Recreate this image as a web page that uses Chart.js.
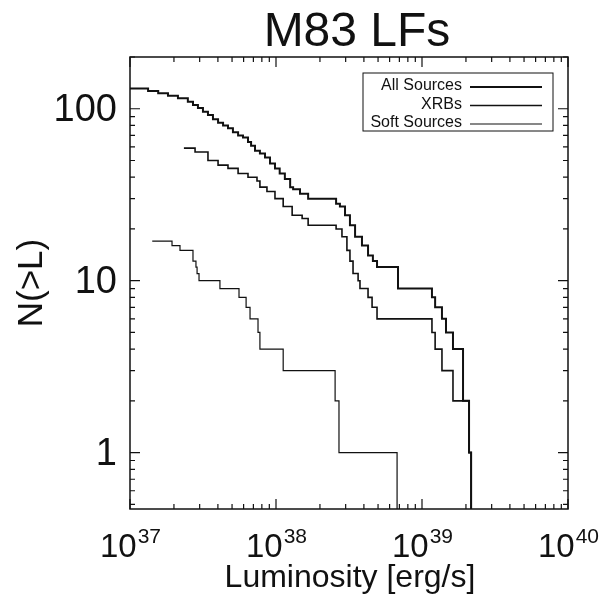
<!DOCTYPE html>
<html>
<head>
<meta charset="utf-8">
<script src="https://cdn.jsdelivr.net/npm/chart.js@4/dist/chart.umd.min.js"></script>
<style>
  body { margin: 0; background: #fff; }
  canvas { display: block; }
</style>
</head>
<body>
<canvas id="lf" width="602" height="595"></canvas>
<script>
// luminosity (erg/s) where N(>L) steps down, and the count after the step
const allL = [1.00e37, 1.33e37, 1.56e37, 1.82e37, 2.13e37, 2.49e37, 2.70e37, 2.92e37, 3.16e37, 3.42e37,
              3.70e37, 4.01e37, 4.34e37, 4.69e37, 5.07e37, 5.50e37, 5.94e37, 6.43e37, 6.75e37, 7.18e37,
              7.76e37, 8.41e37, 9.10e37, 9.84e37, 1.06e38, 1.15e38, 1.25e38, 1.31e38, 1.46e38, 1.66e38,
              2.58e38, 2.74e38, 2.97e38, 3.21e38, 3.48e38, 3.88e38, 4.27e38, 4.61e38, 4.92e38, 6.85e38,
              1.17e39, 1.23e39, 1.37e39, 1.46e39, 1.63e39, 1.91e39, 2.10e39, 2.17e39];
const allN = [131, 127, 123, 119, 115, 110, 105, 101, 96, 92,
              87, 83, 80, 77, 73, 70, 68, 64, 61, 57,
              55, 52, 48, 45, 42, 39, 35, 34, 32, 30,
              28, 27, 24, 21, 18, 16, 14, 13, 12, 9,
              8, 7, 6, 5, 4, 2, 1, 0.1];

const xrbL = [2.34e37, 2.79e37, 3.42e37, 4.01e37, 4.69e37, 5.50e37, 6.43e37, 7.41e37, 7.76e37, 8.67e37,
              9.84e37, 1.12e38, 1.29e38, 1.51e38, 1.66e38, 2.58e38, 2.83e38, 3.06e38, 3.21e38, 3.37e38,
              3.65e38, 3.76e38, 4.27e38, 4.55e38, 4.92e38, 1.17e39, 1.23e39, 1.37e39, 1.63e39, 2.10e39,
              2.17e39];
const xrbN = [59, 56, 50, 47, 45, 42, 40, 38, 35, 33,
              30, 27, 24, 23, 21, 20, 18, 15, 13, 11,
              10, 9, 8, 7, 6, 5, 4, 3, 2, 1,
              0.1];

const softL = [1.42e37, 1.94e37, 2.20e37, 2.70e37, 2.83e37, 2.88e37, 2.97e37, 4.13e37, 5.58e37, 6.24e37,
               6.64e37, 7.53e37, 7.76e37, 1.12e38, 2.54e38, 2.70e38, 6.75e38];
const softN = [17, 16, 15, 13, 12, 11, 10, 9, 8, 7,
               6, 5, 4, 3, 2, 1, 0.1];

const seriesNames = ['All Sources', 'XRBs', 'Soft Sources'];
const xDecades = [37, 38, 39, 40];
const yTickValues = [1, 10, 100];

const FONT = '"Liberation Sans", Arial, Helvetica, sans-serif';

function pairs(xs, ys) {
    return xs.map((x, i) => ({x: x, y: ys[i]}));
}

function stepSet(label, xs, ys, width) {
    return {
        label: label,
        data: pairs(xs, ys),
        showLine: true,
        stepped: 'before',
        borderColor: '#111',
        borderWidth: width,
        pointRadius: 0,
        fill: false
    };
}

const idlFrame = {
    id: 'idlFrame',
    afterDraw(chart) {
        const ctx = chart.ctx,
            a = chart.chartArea,
            xs = chart.scales.x,
            ys = chart.scales.y;

        ctx.save();
        ctx.strokeStyle = '#111';
        ctx.lineWidth = 1.5;
        ctx.strokeRect(a.left, a.top, a.right - a.left, a.bottom - a.top);

        // x ticks, inside, top and bottom
        ctx.lineWidth = 1.2;
        for (let d = xDecades[0]; d <= xDecades[xDecades.length - 1]; d++) {
            for (let m = 1; m <= 9; m++) {
                const v = m * Math.pow(10, d);
                if (v > xs.max * 1.0001) break;
                const px = xs.getPixelForValue(v),
                    len = m === 1 ? 10 : 5;
                ctx.beginPath();
                ctx.moveTo(px, a.bottom); ctx.lineTo(px, a.bottom - len);
                ctx.moveTo(px, a.top);    ctx.lineTo(px, a.top + len);
                ctx.stroke();
            }
        }
        // y ticks, inside, left and right
        for (let d = -1; d <= 2; d++) {
            for (let m = 1; m <= 9; m++) {
                const v = m * Math.pow(10, d);
                if (v < ys.min || v > ys.max) continue;
                const py = ys.getPixelForValue(v),
                    len = m === 1 ? 10 : 5;
                ctx.beginPath();
                ctx.moveTo(a.left, py);  ctx.lineTo(a.left + len, py);
                ctx.moveTo(a.right, py); ctx.lineTo(a.right - len, py);
                ctx.stroke();
            }
        }

        ctx.fillStyle = '#111';
        ctx.textBaseline = 'alphabetic';

        // x tick labels 10^n
        xDecades.forEach(d => {
            const px = xs.getPixelForValue(Math.pow(10, d));
            ctx.font = '33px ' + FONT;
            const wb = ctx.measureText('10').width;
            ctx.font = '21px ' + FONT;
            const we = ctx.measureText(String(d)).width;
            const x0 = px - (wb + we) / 2;
            ctx.textAlign = 'left';
            ctx.font = '33px ' + FONT;
            ctx.fillText('10', x0, 557);
            ctx.font = '21px ' + FONT;
            ctx.fillText(String(d), x0 + wb + 1, 543);
        });

        // y tick labels
        ctx.font = '38px ' + FONT;
        ctx.textAlign = 'right';
        ctx.textBaseline = 'middle';
        yTickValues.forEach(v => {
            ctx.fillText(String(v), 117, ys.getPixelForValue(v) + 2);
        });

        // axis titles
        ctx.textAlign = 'center';
        ctx.textBaseline = 'alphabetic';
        ctx.font = '32px ' + FONT;
        ctx.fillText('Luminosity [erg/s]', (a.left + a.right) / 2 + 1, 587);
        ctx.save();
        ctx.font = '35px ' + FONT;
        ctx.translate(42, (a.top + a.bottom) / 2);
        ctx.rotate(-Math.PI / 2);
        ctx.fillText('N(>L)', 0, 0);
        ctx.restore();

        // title
        ctx.font = '48px ' + FONT;
        ctx.fillText('M83 LFs', 357, 46);

        // legend box
        ctx.lineWidth = 1;
        ctx.strokeRect(363, 73, 190, 58);
        ctx.font = '16px ' + FONT;
        ctx.textAlign = 'right';
        ctx.textBaseline = 'middle';
        chart.data.datasets.forEach((ds, i) => {
            const ty = 86 + i * 18.5;
            ctx.fillText(ds.label, 462, ty);
            ctx.lineWidth = ds.borderWidth;
            ctx.beginPath();
            ctx.moveTo(470, ty + 1);
            ctx.lineTo(542, ty + 1);
            ctx.stroke();
        });
        ctx.restore();
    }
};

new Chart(document.getElementById('lf'), {
    type: 'scatter',
    data: {
        datasets: [
            stepSet(seriesNames[0], allL, allN, 2),
            stepSet(seriesNames[1], xrbL, xrbN, 1.6),
            stepSet(seriesNames[2], softL, softN, 1.2)
        ]
    },
    options: {
        responsive: false,
        animation: false,
        devicePixelRatio: 1,
        layout: {padding: {left: 130, right: 34, top: 57, bottom: 86}},
        plugins: {legend: {display: false}, tooltip: {enabled: false}},
        scales: {
            x: {type: 'logarithmic', min: 1e37, max: 1e40, display: false},
            y: {type: 'logarithmic', min: 0.47, max: 200, display: false}
        }
    },
    plugins: [idlFrame]
});
</script>
</body>
</html>
